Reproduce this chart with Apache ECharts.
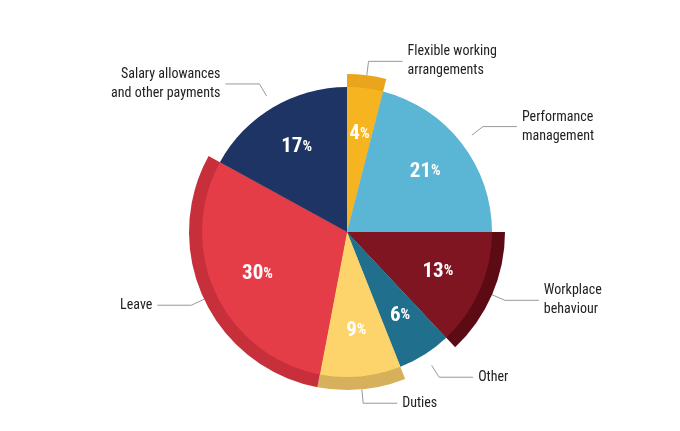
<!DOCTYPE html>
<html>
<head>
<meta charset="utf-8">
<script src="https://cdn.jsdelivr.net/npm/echarts@6/dist/echarts.min.js"></script>
<style>html,body{margin:0;background:#fff}#pie{width:680px;height:431px}</style>
</head>
<body>
<div id="pie"></div>
<script>
// chart data
var categories = ['Flexible working\narrangements', 'Performance\nmanagement', 'Workplace\nbehaviour', 'Other', 'Duties', 'Leave', 'Salary allowances\nand other payments'];
var values = [4, 21, 13, 6, 9, 30, 17];
var colors = ['#F6B520', '#5BB5D4', '#7E1520', '#1F6F8D', '#FDD46C', '#E53D48', '#1E3465'];
var shadowColors = ['#E9A61C', 'rgba(0,0,0,0)', '#5C0B14', 'rgba(0,0,0,0)', '#D6B05A', '#C7303A', 'rgba(0,0,0,0)'];

var myChart = echarts.init(document.getElementById('pie'));
var font = '"Liberation Sans Narrow", "Roboto Condensed", "Roboto", sans-serif';
var none = 'rgba(0,0,0,0)';
var option = {
    animation: false,
    series: [
        {
            // outer bands + outside labels
            type: 'pie',
            center: [347, 232],
            radius: [0, 158],
            startAngle: 90,
            silent: true,
            data: values.map(function (v, i) {
                return { value: v, name: categories[i], itemStyle: { color: shadowColors[i] } };
            }),
            label: {
                show: true,
                position: 'outside',
                formatter: '{b}',
                color: '#222',
                fontFamily: font,
                fontSize: 14,
                lineHeight: 19
            },
            labelLine: { show: true, length: 14, length2: 34, lineStyle: { color: '#999', width: 1 } }
        },
        {
            type: 'pie',
            center: [347, 232],
            radius: [0, 145],
            startAngle: 90,
            silent: true,
            data: values.map(function (v, i) {
                return { value: v, name: categories[i], itemStyle: { color: colors[i] } };
            }),
            label: { show: false },
            labelLine: { show: false }
        },
        {
            // invisible ring just to push the percentage labels outward
            type: 'pie',
            center: [347, 232],
            radius: [0, 192],
            startAngle: 90,
            silent: true,
            z: 5,
            data: values.map(function (v, i) {
                return { value: v, name: categories[i], itemStyle: { color: none } };
            }),
            label: {
                show: true,
                position: 'inside',
                formatter: function (p) { return '{n|' + p.value + '}{p|%}'; },
                rich: {
                    n: { color: '#fff', fontSize: 21, fontWeight: 'bold', fontFamily: font },
                    p: { color: '#fff', fontSize: 15, fontWeight: 'bold', fontFamily: font }
                }
            },
            labelLine: { show: false }
        }
    ]
};
myChart.setOption(option, true);
</script>
</body>
</html>
